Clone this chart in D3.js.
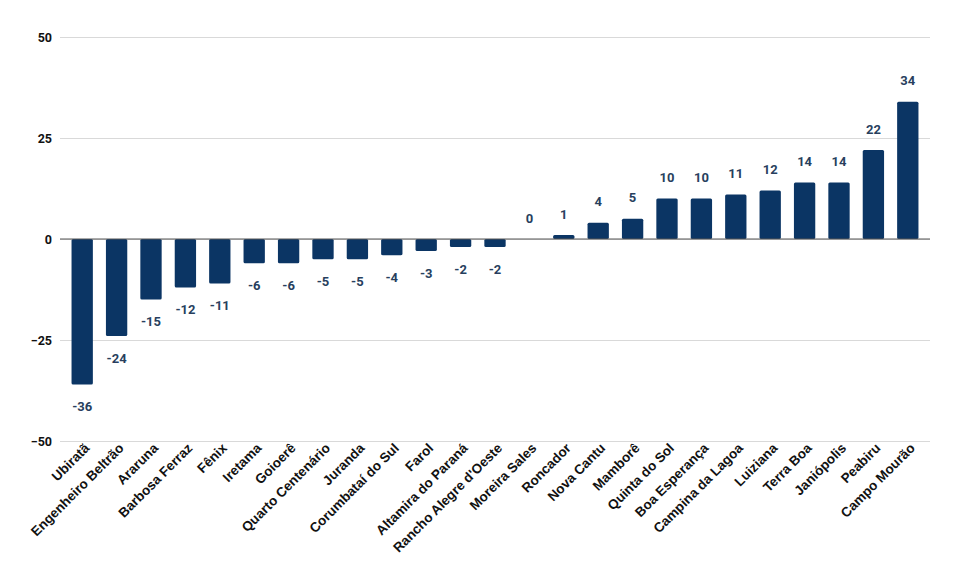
<!DOCTYPE html>
<html>
<head>
<meta charset="utf-8">
<script src="https://cdn.jsdelivr.net/npm/d3@7"></script>
<style>
body{margin:0;background:#fff}
</style>
</head>
<body>
<div id="chart"></div>
<script>
// data
var cities=["Ubiratã","Engenheiro Beltrão","Araruna","Barbosa Ferraz","Fênix","Iretama","Goioerê","Quarto Centenário","Juranda","Corumbataí do Sul","Farol","Altamira do Paraná","Rancho Alegre d'Oeste","Moreira Sales","Roncador","Nova Cantu","Mamborê","Quinta do Sol","Boa Esperança","Campina da Lagoa","Luiziana","Terra Boa","Janiópolis","Peabiru","Campo Mourão"]
var values=[-36,-24,-15,-12,-11,-6,-6,-5,-5,-4,-3,-2,-2,0,1,4,5,10,10,11,12,14,14,22,34]
var yTicks=[-50,-25,0,25,50]

var svgWidth=960
var svgHeight=588

var svg=d3.select("#chart")
    .append("svg")
    .attr("width", svgWidth)
    .attr("height", svgHeight)

var x=d3.scaleBand()
    .domain(cities)
    .range([65, 925])
    .paddingInner(0.38)
    .paddingOuter(0.19)

var y=d3.scaleLinear()
    .domain([-50, 50])
    .range([441, 37])

// grid lines + y labels
var grid=svg.append("g")
    .attr("transform", "translate(60,0)")
    .call(d3.axisLeft(y).tickValues(yTicks).tickSize(-870).tickPadding(8))
grid.select(".domain").remove()
grid.selectAll(".tick line").attr("stroke", "#d9d9d9")
grid.selectAll(".tick text")
    .attr("font-family", "Roboto, sans-serif")
    .attr("font-weight", "bold")
    .attr("font-size", 12.5)
    .attr("fill", "#111")

var data=cities.map((c,i)=>({city:c, value:values[i]}))

svg.selectAll("rect.bar")
    .data(data)
    .enter()
    .append("rect")
    .attr("class", "bar")
    .attr("x", d=>x(d.city))
    .attr("width", x.bandwidth())
    .attr("y", d=>y(Math.max(0, d.value)))
    .attr("height", d=>Math.abs(y(d.value)-y(0)))
    .attr("rx", 1.5)
    .attr("fill", "#0b3564")

// zero line
svg.append("line")
    .attr("x1", 60).attr("x2", 930)
    .attr("y1", y(0)).attr("y2", y(0))
    .attr("stroke", "#555")
    .attr("stroke-width", 1)

// value labels
svg.selectAll("text.val")
    .data(data)
    .enter()
    .append("text")
    .attr("class", "val")
    .attr("x", d=>x(d.city)+x.bandwidth()/2)
    .attr("y", d=>d.value>=0 ? y(d.value)-21 : y(d.value)+22)
    .attr("dy", "0.35em")
    .attr("text-anchor", "middle")
    .attr("font-family", "Roboto, sans-serif")
    .attr("font-weight", "bold")
    .attr("font-size", 13)
    .attr("fill", "#283f5e")
    .text(d=>d.value)

// category labels, rotated
svg.selectAll("text.cat")
    .data(cities)
    .enter()
    .append("text")
    .attr("class", "cat")
    .attr("transform", d=>`translate(${x(d)+x.bandwidth()/2+8},${449}) rotate(-45)`)
    .attr("text-anchor", "end")
    .attr("font-family", "'Liberation Sans', Arial, sans-serif")
    .attr("font-weight", "bold")
    .attr("font-size", 13.5)
    .attr("fill", "#111")
    .text(d=>d)
</script>
</body>
</html>
